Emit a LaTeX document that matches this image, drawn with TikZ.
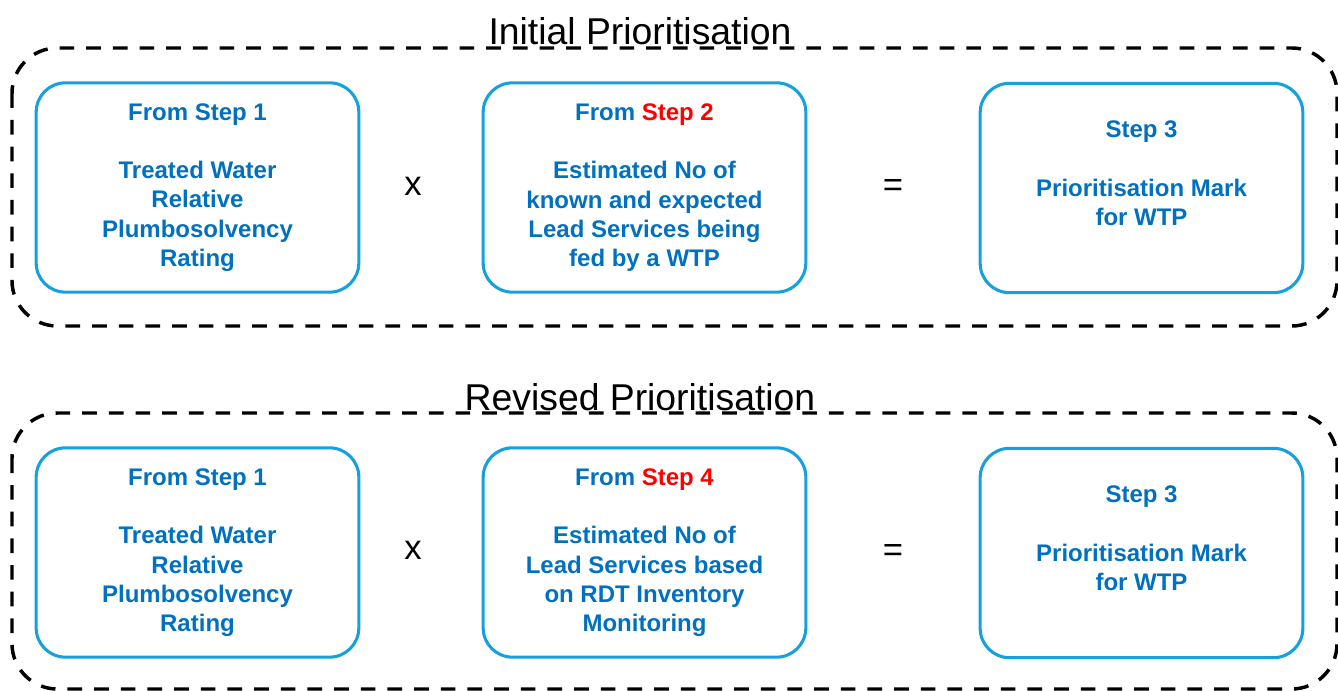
\documentclass[tikz,border=0pt]{standalone}
\usepackage{fontspec}
\setmainfont{Liberation Sans}
\definecolor{stepblue}{RGB}{0,112,192}
\definecolor{edgeblue}{RGB}{22,160,222}
\definecolor{stepred}{RGB}{255,0,0}
\tikzset{
    stepbox/.style={draw=edgeblue,line width=2.3pt,rounded corners=22pt,minimum width=242pt,minimum height=157pt,align=center,text=stepblue,font=\fontsize{18}{22}\selectfont\bfseries},
    grpframe/.style={draw=black,line width=2.6pt,rounded corners=34pt,dash pattern=on 11pt off 9pt},
    grptitle/.style={anchor=base,font=\fontsize{28}{34}\selectfont},
    opsign/.style={font=\fontsize{26}{30}\selectfont}
}
\begin{document}
\begin{tikzpicture}[x=0.75pt,y=-0.75pt]
    \useasboundingbox (0,0) rectangle (1338,691);
    \draw[grpframe] (12,48) rectangle (1337,326);
    \node[grptitle] (ttlA) at (640,45) {Initial Prioritisation};
    \node[stepbox] (aOne) at (197.5,187.5) {From Step 1\\[22pt]Treated Water\\Relative\\Plumbosolvency\\Rating};
    \node[opsign] (aTimes) at (413,186) {x};
    \node[stepbox] (aTwo) at (644.5,187.5) {From \textcolor{stepred}{Step 2}\\[22pt]Estimated No of\\known and expected\\Lead Services being\\fed by a WTP};
    \node[opsign] (aEq) at (893,188) {=};
    \node[stepbox] (aThree) at (1141.5,188) {Step 3\\[22pt]Prioritisation Mark\\for WTP\\~};
    \draw[grpframe] (12,413) rectangle (1337,689);
    \node[grptitle] (ttlB) at (640,410) {Revised Prioritisation};
    \node[stepbox] (bOne) at (197.5,552.5) {From Step 1\\[22pt]Treated Water\\Relative\\Plumbosolvency\\Rating};
    \node[opsign] (bTimes) at (413,550) {x};
    \node[stepbox] (bTwo) at (644.5,552.5) {From \textcolor{stepred}{Step 4}\\[22pt]Estimated No of\\Lead Services based\\on RDT Inventory\\Monitoring};
    \node[opsign] (bEq) at (893,553) {=};
    \node[stepbox] (bThree) at (1141.5,553) {Step 3\\[22pt]Prioritisation Mark\\for WTP\\~};
\end{tikzpicture}
\end{document}
